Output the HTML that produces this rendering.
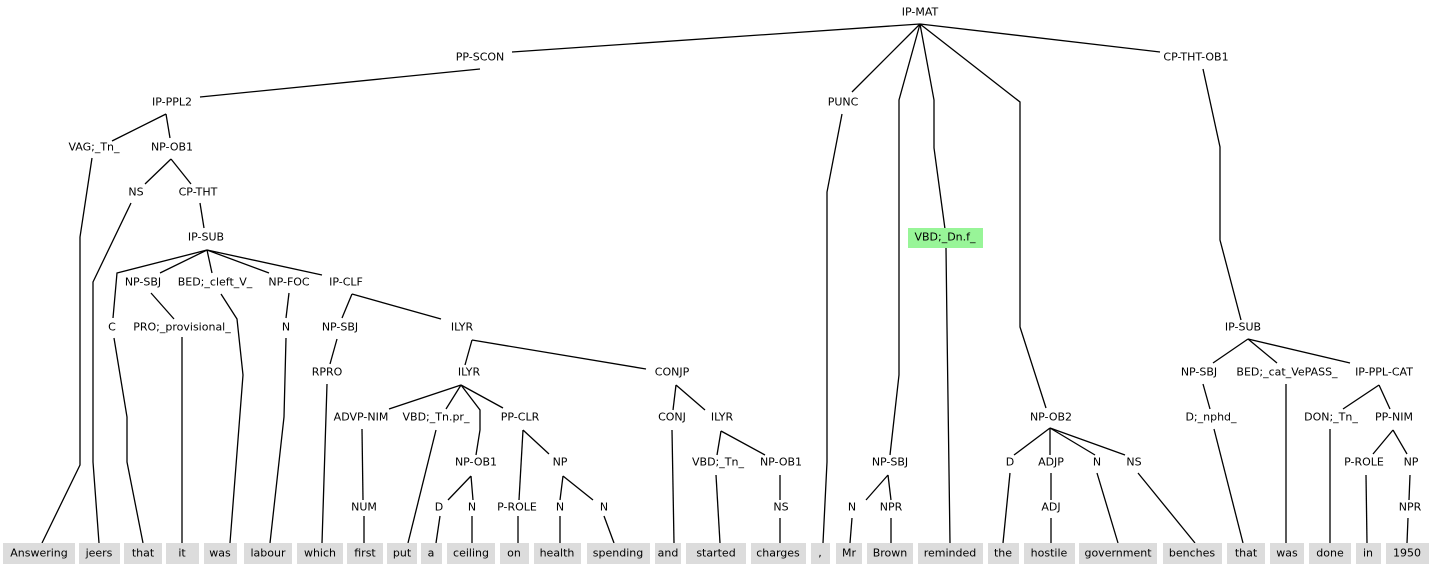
<!DOCTYPE html>
<html><head><meta charset="utf-8"><style>
html,body{margin:0;padding:0;background:#fff;}
svg{display:block;}
text{font-family:"DejaVu Sans","Liberation Sans",sans-serif;font-size:11px;fill:#000;text-anchor:middle;dominant-baseline:central;}
polyline{fill:none;stroke:#000;stroke-width:1.3;}
rect.w{fill:#dcdcdc;}
</style></head><body>
<svg width="1432" height="568" viewBox="0 0 1432 568" xmlns="http://www.w3.org/2000/svg">
<g>
<polyline points="920,24 512,52"/>
<polyline points="920,24 852,92"/>
<polyline points="920,24 899,100 899,375 890,455"/>
<polyline points="920,24 934,100 934,148 945,229"/>
<polyline points="920,24 1020,102 1020,327 1046,408"/>
<polyline points="920,24 1160,52"/>
<polyline points="480,69 200,97"/>
<polyline points="166,114 112,141"/>
<polyline points="166,114 170,138"/>
<polyline points="92,158 80,237 80,465 42,543"/>
<polyline points="171,159 145,184"/>
<polyline points="171,159 191,184"/>
<polyline points="131,203 93,282 93,462 99,543"/>
<polyline points="200,203 204,228"/>
<polyline points="207,250 117,273 113,318"/>
<polyline points="207,250 160,273"/>
<polyline points="207,250 212,273"/>
<polyline points="207,250 269,273"/>
<polyline points="207,250 322,275"/>
<polyline points="114,338 127,417 127,462 143,543"/>
<polyline points="151,293 174,319"/>
<polyline points="182,337 182,543"/>
<polyline points="221,294 237,319 243,375 230,543"/>
<polyline points="289,293 286,318"/>
<polyline points="286,338 284,417 270,543"/>
<polyline points="352,294 342,318"/>
<polyline points="352,294 441,319"/>
<polyline points="337,339 330,364"/>
<polyline points="327,384 322,543"/>
<polyline points="472,340 465,365"/>
<polyline points="472,340 646,369"/>
<polyline points="461,385 389,409"/>
<polyline points="461,385 446,409"/>
<polyline points="461,385 480,410 480,430 476,455"/>
<polyline points="461,385 503,408"/>
<polyline points="362,429 363,500"/>
<polyline points="436,430 408,543"/>
<polyline points="471,476 448,500"/>
<polyline points="471,476 473,500"/>
<polyline points="523,430 519,500"/>
<polyline points="523,430 549,454"/>
<polyline points="563,476 560,500"/>
<polyline points="563,476 593,500"/>
<polyline points="364,516 364,543"/>
<polyline points="440,516 436,543"/>
<polyline points="472,516 472,543"/>
<polyline points="518,516 518,543"/>
<polyline points="560,516 560,543"/>
<polyline points="604,516 614,543"/>
<polyline points="676,385 673,410"/>
<polyline points="676,385 705,410"/>
<polyline points="672,430 674,543"/>
<polyline points="721,431 717,455"/>
<polyline points="721,431 765,455"/>
<polyline points="716,475 720,543"/>
<polyline points="780,475 780,500"/>
<polyline points="780,518 780,543"/>
<polyline points="842,114 827,192 827,462 823,543"/>
<polyline points="888,475 866,500"/>
<polyline points="888,475 891,500"/>
<polyline points="852,518 850,543"/>
<polyline points="891,518 891,543"/>
<polyline points="946,248 947,327 950,543"/>
<polyline points="1050,428 1014,455"/>
<polyline points="1050,428 1050,455"/>
<polyline points="1050,428 1095,455"/>
<polyline points="1050,428 1125,455"/>
<polyline points="1010,473 1003,543"/>
<polyline points="1051,473 1051,500"/>
<polyline points="1051,518 1051,543"/>
<polyline points="1097,473 1118,543"/>
<polyline points="1138,473 1195,543"/>
<polyline points="1203,69 1220,147 1220,240 1241,320"/>
<polyline points="1248,339 1213,363"/>
<polyline points="1248,339 1277,363"/>
<polyline points="1248,339 1350,363"/>
<polyline points="1203,384 1210,409"/>
<polyline points="1214,429 1243,543"/>
<polyline points="1286,384 1286,543"/>
<polyline points="1379,385 1343,409"/>
<polyline points="1379,385 1390,409"/>
<polyline points="1330,429 1330,543"/>
<polyline points="1393,430 1373,454"/>
<polyline points="1393,430 1407,454"/>
<polyline points="1366,475 1367,543"/>
<polyline points="1410,475 1409,500"/>
<polyline points="1408,518 1407,543"/>
</g>
<rect x="908" y="228" width="75" height="20" fill="#98f598"/>
<g>
<text x="920" y="12">IP-MAT</text>
<text x="480" y="57">PP-SCON</text>
<text x="1196" y="57">CP-THT-OB1</text>
<text x="172" y="102">IP-PPL2</text>
<text x="843" y="102">PUNC</text>
<text x="94" y="147">VAG;_Tn_</text>
<text x="172" y="147">NP-OB1</text>
<text x="136" y="192">NS</text>
<text x="198" y="192">CP-THT</text>
<text x="206" y="237">IP-SUB</text>
<text x="945" y="237">VBD;_Dn.f_</text>
<text x="143" y="282">NP-SBJ</text>
<text x="215" y="282">BED;_cleft_V_</text>
<text x="289" y="282">NP-FOC</text>
<text x="346" y="282">IP-CLF</text>
<text x="112" y="327">C</text>
<text x="182" y="327">PRO;_provisional_</text>
<text x="286" y="327">N</text>
<text x="340" y="327">NP-SBJ</text>
<text x="462" y="327">ILYR</text>
<text x="1243" y="327">IP-SUB</text>
<text x="327" y="372">RPRO</text>
<text x="469" y="372">ILYR</text>
<text x="672" y="372">CONJP</text>
<text x="1199" y="372">NP-SBJ</text>
<text x="1287" y="372">BED;_cat_VePASS_</text>
<text x="1384" y="372">IP-PPL-CAT</text>
<text x="361" y="417">ADVP-NIM</text>
<text x="436" y="417">VBD;_Tn.pr_</text>
<text x="520" y="417">PP-CLR</text>
<text x="672" y="417">CONJ</text>
<text x="722" y="417">ILYR</text>
<text x="1051" y="417">NP-OB2</text>
<text x="1211" y="417">D;_nphd_</text>
<text x="1331" y="417">DON;_Tn_</text>
<text x="1394" y="417">PP-NIM</text>
<text x="476" y="462">NP-OB1</text>
<text x="560" y="462">NP</text>
<text x="718" y="462">VBD;_Tn_</text>
<text x="781" y="462">NP-OB1</text>
<text x="890" y="462">NP-SBJ</text>
<text x="1010" y="462">D</text>
<text x="1051" y="462">ADJP</text>
<text x="1097" y="462">N</text>
<text x="1134" y="462">NS</text>
<text x="1364" y="462">P-ROLE</text>
<text x="1411" y="462">NP</text>
<text x="364" y="507">NUM</text>
<text x="439" y="507">D</text>
<text x="472" y="507">N</text>
<text x="517" y="507">P-ROLE</text>
<text x="560" y="507">N</text>
<text x="604" y="507">N</text>
<text x="781" y="507">NS</text>
<text x="852" y="507">N</text>
<text x="891" y="507">NPR</text>
<text x="1051" y="507">ADJ</text>
<text x="1410" y="507">NPR</text>
</g>
<g>
<rect class="w" x="3" y="543" width="72" height="21"/><text x="39" y="553">Answering</text>
<rect class="w" x="79" y="543" width="41" height="21"/><text x="99" y="553">jeers</text>
<rect class="w" x="124" y="543" width="38" height="21"/><text x="143" y="553">that</text>
<rect class="w" x="166" y="543" width="33" height="21"/><text x="182" y="553">it</text>
<rect class="w" x="204" y="543" width="33" height="21"/><text x="220" y="553">was</text>
<rect class="w" x="244" y="543" width="48" height="21"/><text x="268" y="553">labour</text>
<rect class="w" x="297" y="543" width="46" height="21"/><text x="320" y="553">which</text>
<rect class="w" x="347" y="543" width="36" height="21"/><text x="365" y="553">first</text>
<rect class="w" x="387" y="543" width="30" height="21"/><text x="402" y="553">put</text>
<rect class="w" x="421" y="543" width="21" height="21"/><text x="431" y="553">a</text>
<rect class="w" x="447" y="543" width="48" height="21"/><text x="471" y="553">ceiling</text>
<rect class="w" x="500" y="543" width="29" height="21"/><text x="514" y="553">on</text>
<rect class="w" x="534" y="543" width="47" height="21"/><text x="557" y="553">health</text>
<rect class="w" x="587" y="543" width="63" height="21"/><text x="618" y="553">spending</text>
<rect class="w" x="655" y="543" width="26" height="21"/><text x="668" y="553">and</text>
<rect class="w" x="686" y="543" width="60" height="21"/><text x="716" y="553">started</text>
<rect class="w" x="751" y="543" width="55" height="21"/><text x="778" y="553">charges</text>
<rect class="w" x="811" y="543" width="19" height="21"/><text x="820" y="553">,</text>
<rect class="w" x="836" y="543" width="26" height="21"/><text x="849" y="553">Mr</text>
<rect class="w" x="867" y="543" width="46" height="21"/><text x="890" y="553">Brown</text>
<rect class="w" x="918" y="543" width="65" height="21"/><text x="950" y="553">reminded</text>
<rect class="w" x="988" y="543" width="31" height="21"/><text x="1003" y="553">the</text>
<rect class="w" x="1024" y="543" width="51" height="21"/><text x="1049" y="553">hostile</text>
<rect class="w" x="1079" y="543" width="78" height="21"/><text x="1118" y="553">government</text>
<rect class="w" x="1163" y="543" width="59" height="21"/><text x="1192" y="553">benches</text>
<rect class="w" x="1227" y="543" width="38" height="21"/><text x="1246" y="553">that</text>
<rect class="w" x="1270" y="543" width="34" height="21"/><text x="1287" y="553">was</text>
<rect class="w" x="1309" y="543" width="42" height="21"/><text x="1330" y="553">done</text>
<rect class="w" x="1356" y="543" width="25" height="21"/><text x="1368" y="553">in</text>
<rect class="w" x="1386" y="543" width="43" height="21"/><text x="1407" y="553">1950</text>
</g>
</svg>
</body></html>
